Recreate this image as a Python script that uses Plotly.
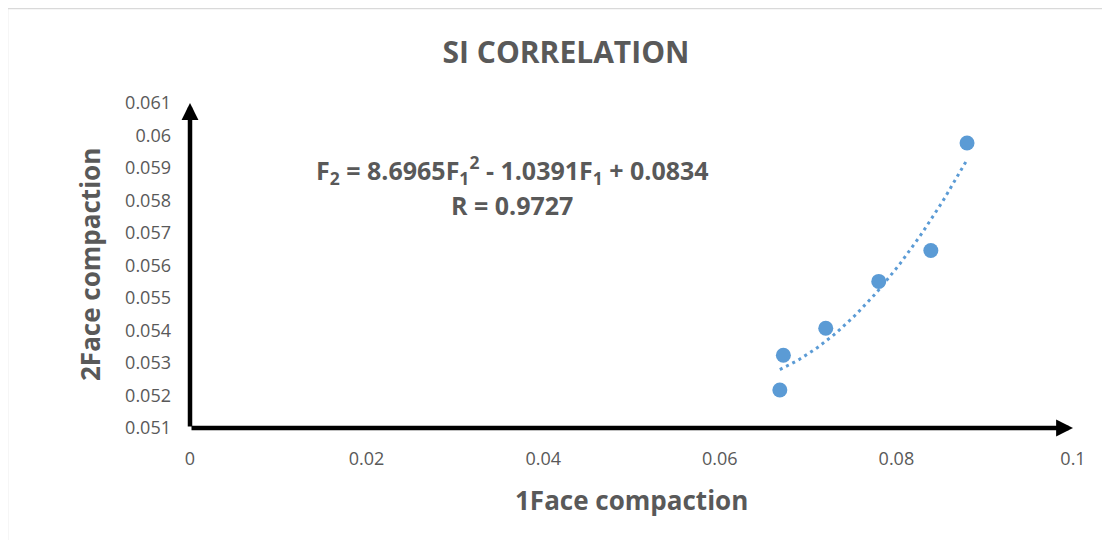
import numpy as np
import plotly.graph_objects as go

# ---- data ----
face1 = [0.0668, 0.0672, 0.0720, 0.0780, 0.0839, 0.0880]
face2 = [0.05217, 0.05324, 0.05407, 0.05551, 0.05646, 0.05977]

x_tickvals = [0, 0.02, 0.04, 0.06, 0.08, 0.1]
x_ticktext = ["0", "0.02", "0.04", "0.06", "0.08", "0.1"]
y_tickvals = [0.051, 0.052, 0.053, 0.054, 0.055, 0.056, 0.057, 0.058, 0.059, 0.060, 0.061]
y_ticktext = ["0.051", "0.052", "0.053", "0.054", "0.055", "0.056", "0.057", "0.058", "0.059", "0.06", "0.061"]

title_text = "SI CORRELATION"
x_title = "1Face compaction"
y_title = "2Face compaction"
eq_text = "F<sub>2</sub> = 8.6965F<sub>1</sub><sup>2</sup> - 1.0391F<sub>1</sub> + 0.0834"
r_text = "R = 0.9727"

# ---- trendline (2nd order polynomial fit) ----
coef = np.polyfit(face1, face2, 2)
xs = np.linspace(min(face1), max(face1), 60)
ys = np.polyval(coef, xs)

OFF = 8  # page body margin in the browser
W, H = 1110 - OFF, 540 - OFF
L, R, T, B = 190 - OFF, 37, 103 - OFF, 112
pw, ph = W - L - R, H - T - B

def px(xp):
    return (xp - OFF - L) / pw

def py(yp):
    return (H - B - (yp - OFF)) / ph

blue = "#5B9BD5"
grey = "#595959"
FONT = "Open Sans"

fig = go.Figure()
fig.add_trace(go.Scatter(x=xs, y=ys, mode="lines",
                         line=dict(color=blue, width=3, dash="3px,4px"),
                         hoverinfo="skip", showlegend=False))
fig.add_trace(go.Scatter(x=face1, y=face2, mode="markers",
                         marker=dict(color=blue, size=15),
                         showlegend=False))

fig.update_layout(
    width=W, height=H,
    margin=dict(l=L, r=R, t=T, b=B),
    plot_bgcolor="white", paper_bgcolor="white",
    title=dict(text="<b>" + title_text + "</b>", x=(566 - OFF) / W, xref="container",
               xanchor="center", y=1 - (52 - OFF) / H, yref="container", yanchor="middle",
               font=dict(family=FONT, size=30, color=grey)),
    xaxis=dict(range=[0, 0.1], tickvals=x_tickvals, ticktext=x_ticktext,
               showgrid=False, zeroline=False, showline=False, ticks="",
               ticklabelstandoff=18,
               tickfont=dict(family=FONT, size=18, color=grey)),
    yaxis=dict(range=[0.051, 0.061], tickvals=y_tickvals, ticktext=y_ticktext,
               showgrid=False, zeroline=False, showline=False, ticks="",
               ticklabelstandoff=18,
               tickfont=dict(family=FONT, size=18, color=grey)),
)

# axis lines with arrowheads
fig.add_annotation(x=0.1, y=0.051, ax=0, ay=0.051, xref="x", yref="y",
                   axref="x", ayref="y", text="", showarrow=True,
                   arrowhead=2, arrowsize=0.75, arrowwidth=4.5, arrowcolor="black",
                   standoff=0, startstandoff=0)
fig.add_annotation(x=0, y=0.061, ax=0, ay=0.051, xref="x", yref="y",
                   axref="x", ayref="y", text="", showarrow=True,
                   arrowhead=2, arrowsize=0.75, arrowwidth=4.5, arrowcolor="black",
                   standoff=0, startstandoff=0)

# axis titles
fig.add_annotation(text="<b>" + x_title + "</b>", xref="paper", yref="paper",
                   x=px(631), y=py(500), showarrow=False,
                   xanchor="center", yanchor="middle",
                   font=dict(family=FONT, size=26, color=grey))
fig.add_annotation(text="<b>" + y_title + "</b>", xref="paper", yref="paper",
                   x=px(90), y=py(265), showarrow=False, textangle=-90,
                   xanchor="center", yanchor="middle",
                   font=dict(family=FONT, size=26, color=grey))

# equation
fig.add_annotation(text="<b>" + eq_text + "</b>", xref="paper", yref="paper",
                   x=px(512), y=py(170), showarrow=False,
                   xanchor="center", yanchor="middle",
                   font=dict(family=FONT, size=25, color=grey))
fig.add_annotation(text="<b>" + r_text + "</b>", xref="paper", yref="paper",
                   x=px(512), y=py(205), showarrow=False,
                   xanchor="center", yanchor="middle",
                   font=dict(family=FONT, size=25, color=grey))

# chart-area border
fig.add_shape(type="rect", xref="paper", yref="paper",
              x0=px(7.5), x1=px(1130), y0=py(560), y1=py(8.5),
              line=dict(color="#D9D9D9", width=1.5), fillcolor="rgba(0,0,0,0)",
              layer="below")

fig.write_html("out.html")
